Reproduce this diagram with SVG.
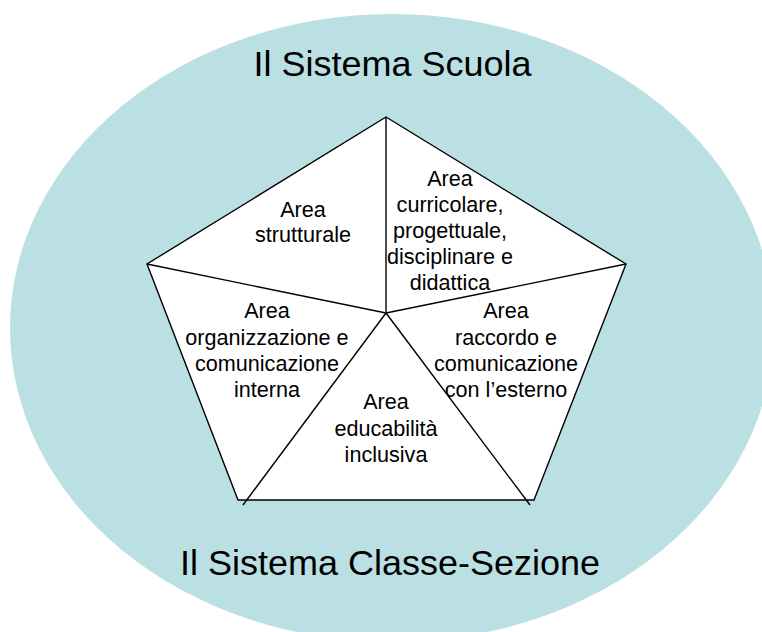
<svg xmlns="http://www.w3.org/2000/svg" width="762" height="632" viewBox="0 0 762 632">
  <style>
    .title { font-family: "Liberation Sans", Arial, sans-serif; font-size: 35px; fill: #000; text-anchor: middle; }
    .lbl { font-family: "Liberation Sans", Arial, sans-serif; font-size: 21.6px; fill: #000; text-anchor: middle; }
    .sector { fill: #ffffff; stroke: none; }
    .edge { fill: none; stroke: #000; stroke-width: 1.4; stroke-linejoin: miter; }
  </style>
  <rect width="762" height="632" fill="#ffffff"/>
  <g id="sistema-scuola">
    <ellipse cx="392" cy="328" rx="382" ry="314" fill="#BBE0E3"/>
    <text class="title" x="392.5" y="76" textLength="278" lengthAdjust="spacingAndGlyphs">Il Sistema Scuola</text>
    <text class="title" x="390" y="575" textLength="420" lengthAdjust="spacingAndGlyphs">Il Sistema Classe-Sezione</text>
  </g>
  <g id="area-strutturale">
    <polygon class="sector" points="386,313 147,264 386,117"/>
    <text class="lbl" x="303" y="217">Area</text>
    <text class="lbl" x="303" y="242">strutturale</text>
  </g>
  <g id="area-curricolare">
    <polygon class="sector" points="386,313 386,117 626,264"/>
    <text class="lbl" x="450" y="186">Area</text>
    <text class="lbl" x="450" y="212">curricolare,</text>
    <text class="lbl" x="450" y="238">progettuale,</text>
    <text class="lbl" x="450" y="264">disciplinare e</text>
    <text class="lbl" x="450" y="290">didattica</text>
  </g>
  <g id="area-raccordo">
    <polygon class="sector" points="386,313 626,264 534,500 526.3,500"/>
    <text class="lbl" x="506" y="318">Area</text>
    <text class="lbl" x="506" y="344.5">raccordo e</text>
    <text class="lbl" x="506" y="371">comunicazione</text>
    <text class="lbl" x="506" y="397">con l’esterno</text>
  </g>
  <g id="area-educabilita">
    <polygon class="sector" points="386,313 526.3,500 246.7,500"/>
    <text class="lbl" x="386" y="409">Area</text>
    <text class="lbl" x="386" y="435.5">educabilità</text>
    <text class="lbl" x="386" y="461.5">inclusiva</text>
  </g>
  <g id="area-organizzazione">
    <polygon class="sector" points="386,313 246.7,500 238,500 147,264"/>
    <text class="lbl" x="267" y="318">Area</text>
    <text class="lbl" x="267" y="344.5">organizzazione e</text>
    <text class="lbl" x="267" y="371">comunicazione</text>
    <text class="lbl" x="267" y="397">interna</text>
  </g>
  <g id="connectors">
    <polygon class="edge" points="386,117 626,264 534,500 238,500 147,264"/>
    <line class="edge" x1="386" y1="313" x2="386" y2="117"/>
    <line class="edge" x1="386" y1="313" x2="626" y2="264"/>
    <line class="edge" x1="386" y1="313" x2="147" y2="264"/>
    <line class="edge" x1="386" y1="313" x2="243" y2="505"/>
    <line class="edge" x1="386" y1="313" x2="530" y2="505"/>
  </g>
</svg>
